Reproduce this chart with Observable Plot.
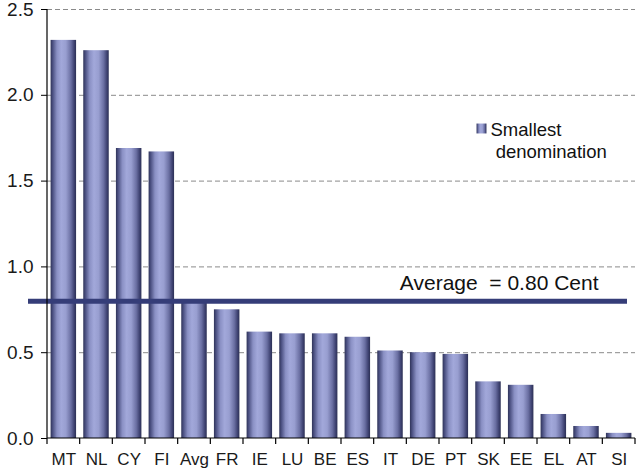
<!DOCTYPE html>
<html>
<head>
<meta charset="utf-8">
<script src="https://cdn.jsdelivr.net/npm/d3@7"></script>
<script src="https://cdn.jsdelivr.net/npm/@observablehq/plot@0.6"></script>
<style>
  html, body { margin: 0; padding: 0; background: #fff; }
  #chart { width: 636px; height: 472px; }
  svg { font-family: "Liberation Sans", Arial, sans-serif; }
</style>
</head>
<body>
<div id="chart"></div>
<script>
const countries = ["MT","NL","CY","FI","Avg","FR","IE","LU","BE","ES","IT","DE","PT","SK","EE","EL","AT","SI"];
const values = [2.32, 2.26, 1.69, 1.67, 0.80, 0.75, 0.62, 0.61, 0.61, 0.59, 0.51, 0.50, 0.49, 0.33, 0.31, 0.14, 0.07, 0.03];
const yTicks = [0, 0.5, 1.0, 1.5, 2.0, 2.5];
const average = 0.80;
const averageLabel = "Average  = 0.80 Cent";
const legendLabel = "Smallest\n denomination";

const data = countries.map((c, i) => ({country: c, value: values[i]}));

// axis lines and tick marks at the band boundaries
function axisFrame(index, scales, values, dims) {
  const x = scales.x;
  const step = x.step();
  const y0 = dims.height - dims.marginBottom;
  const yTop = dims.marginTop;
  const xl = dims.marginLeft;
  const g = d3.create("svg:g").attr("stroke", "#000").attr("stroke-width", 1.2);
  const start = x(countries[0]) - step * x.paddingInner() / 2;
  for (let i = 0; i <= countries.length; i++) {
    const px = start + i * step;
    g.append("line").attr("x1", px).attr("x2", px).attr("y1", y0).attr("y2", y0 + 6);
  }
  g.append("line").attr("x1", xl).attr("x2", xl).attr("y1", yTop).attr("y2", y0);
  g.append("line").attr("x1", xl).attr("x2", dims.width - dims.marginRight).attr("y1", y0).attr("y2", y0);
  return g.node();
}

const plot = Plot.plot({
  width: 636,
  height: 472,
  marginLeft: 47,
  marginRight: 1,
  marginTop: 9,
  marginBottom: 34,
  style: {fontFamily: "'Liberation Sans', Arial, sans-serif", background: "#fff", overflow: "visible"},
  x: {domain: countries, paddingInner: 0.22, paddingOuter: 0.11, round: false, label: null},
  y: {domain: [0, 2.5], label: null},
  marks: [
    Plot.gridY(yTicks.slice(1), {stroke: "#8a8a8a", strokeOpacity: 1, strokeDasharray: "5,3", strokeWidth: 1}),
    Plot.barY(data, {x: "country", y: "value", fill: "url(#barGrad)"}),
    Plot.ruleY([average], {stroke: "#353d78", strokeWidth: 5, insetLeft: -19, insetRight: 8}),
    Plot.text([averageLabel], {frameAnchor: "right", y: () => average, textAnchor: "end", dx: -37, dy: -18, fontSize: 21, fill: "#111", lineAnchor: "middle"}),
    Plot.axisY(yTicks, {tickFormat: d3.format(".1f"), tickSize: 6, tickPadding: 8, fontSize: 19, fill: "#1a1a1a", stroke: "#000"}),
    Plot.axisX({tickSize: 0, tickPadding: 14, fontSize: 17, fill: "#1a1a1a"}),
    axisFrame,
    Plot.dot([legendLabel], {frameAnchor: "top-left", dx: 434, dy: 119, symbol: "square", r: 5.6, fill: "url(#barGrad)", stroke: "none"}),
    Plot.text([legendLabel], {frameAnchor: "top-left", dx: 443, dy: 111, textAnchor: "start", lineAnchor: "top", lineHeight: 1.2, fontSize: 18.5, fill: "#111"})
  ]
});

// gradient definition for the cylinder-like bars
const defs = d3.select(plot).insert("defs", ":first-child");
const grad = defs.append("linearGradient").attr("id", "barGrad")
  .attr("x1", "0").attr("x2", "1").attr("y1", "0").attr("y2", "0");
[[0, "#2f3358"], [0.08, "#4a4f80"], [0.25, "#8a90c4"], [0.42, "#a2a8da"], [0.6, "#989ed0"], [0.8, "#6a6fa2"], [0.93, "#3d4170"], [1, "#2c3054"]]
  .forEach(([o, c]) => grad.append("stop").attr("offset", o).attr("stop-color", c));

d3.select(plot).selectAll("text, tspan").style("white-space", "pre");
document.getElementById("chart").appendChild(plot);
</script>
</body>
</html>
